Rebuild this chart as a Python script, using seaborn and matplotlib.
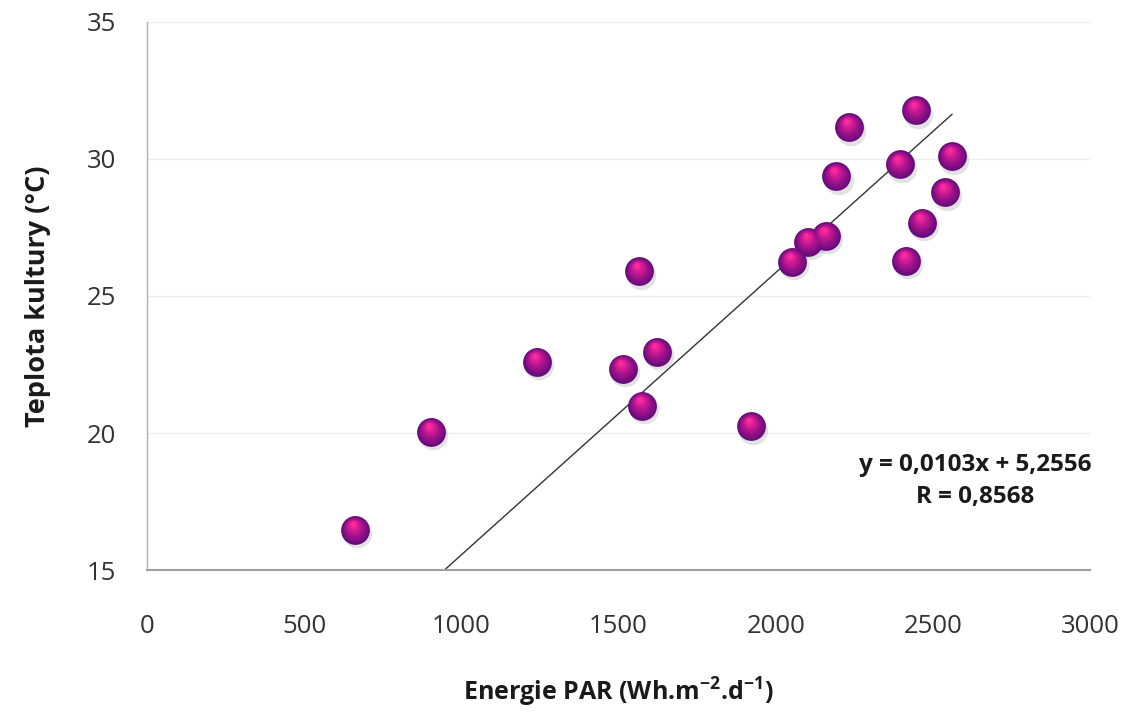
import numpy as np
import pandas as pd
import matplotlib
matplotlib.use("Agg")
import matplotlib.pyplot as plt
import matplotlib.transforms as mtransforms
import seaborn as sns
from matplotlib.colors import to_rgb

# Data
energie_par = [662, 904, 1241, 1514, 1566, 1575, 1622, 1922, 2052, 2104,
               2160, 2193, 2234, 2394, 2415, 2446, 2465, 2539, 2561]
teplota = [16.46, 20.04, 22.6, 22.34, 25.9, 21.0, 22.96, 20.24, 26.24, 26.98,
           27.19, 29.37, 31.16, 29.8, 26.28, 31.78, 27.68, 28.78, 30.1]
slope = 0.0103
intercept = 5.2556
x_ticks = [0, 500, 1000, 1500, 2000, 2500, 3000]
y_ticks = [15, 20, 25, 30, 35]
eq_text = "y = 0,0103x + 5,2556"
r_text = "R = 0,8568"
x_label = "Energie PAR (Wh.m$^{\\mathregular{-2}}$.d$^{\\mathregular{-1}}$)"
y_label = "Teplota kultury (°C)"

df = pd.DataFrame({"x": energie_par, "y": teplota})

sns.set_theme(style="white")
plt.rcParams['font.family'] = ['Open Sans', 'DejaVu Sans']
plt.rcParams['mathtext.fontset'] = 'custom'
plt.rcParams['mathtext.rm'] = 'Open Sans:bold'

fig = plt.figure(figsize=(11.32, 7.18), dpi=100)
ax = fig.add_axes([0.1299, 0.2061, 0.8331, 0.7633])

# grid
for yv in y_ticks[1:]:
    ax.axhline(yv, color="#ececec", lw=1.0, zorder=0)

# trendline
x0 = (y_ticks[0] - intercept) / slope
xl = np.array([x0, max(energie_par)])
sns.lineplot(x=xl, y=slope * xl + intercept, ax=ax, color="#333333", lw=1.0, zorder=2)

# sphere-like markers: shadow + layered radial gradient
base_s = 430
shadow = mtransforms.offset_copy(ax.transData, fig=fig, x=1.5, y=-2.5, units="points")
sns.scatterplot(data=df, x="x", y="y", ax=ax, s=base_s * 1.05, color="#a0a0a0",
                alpha=0.3, linewidth=0, transform=shadow, zorder=3, legend=False)

c_out = np.array(to_rgb("#650c7c"))
c_mid = np.array(to_rgb("#b0148e"))
c_in = np.array(to_rgb("#ff2a9c"))
n = 10
for i in range(n):
    t = i / (n - 1)
    frac = 1 - 0.85 * t
    if t < 0.5:
        col = c_out * (1 - 2 * t) + c_mid * (2 * t)
    else:
        col = c_mid * (2 - 2 * t) + c_in * (2 * t - 1)
    off = 4.5 * t
    tr = mtransforms.offset_copy(ax.transData, fig=fig, x=-off * 0.4, y=off, units="points")
    sns.scatterplot(data=df, x="x", y="y", ax=ax, s=base_s * frac ** 2, color=col,
                    linewidth=0, transform=tr, zorder=4 + i, legend=False)

ax.set_xlim(0, 3000)
ax.set_ylim(15, 35)
ax.set_xticks(x_ticks)
ax.set_yticks(y_ticks)
ax.tick_params(axis="x", length=0, pad=32, labelsize=18.5, labelcolor="#333333")
ax.tick_params(axis="y", length=0, pad=22, labelsize=18.5, labelcolor="#333333")

for s in ["top", "right"]:
    ax.spines[s].set_visible(False)
ax.spines["left"].set_color("#b0b0b0")
ax.spines["bottom"].set_color("#a0a0a0")
ax.spines["left"].set_linewidth(1.0)
ax.spines["bottom"].set_linewidth(1.5)

ax.set_xlabel(x_label, fontsize=18, fontweight="bold", color="#1a1a1a", labelpad=26)
ax.set_ylabel(y_label, fontsize=19.5, fontweight="bold", color="#1a1a1a", labelpad=26)

ax.text(0.878, 0.192, eq_text, transform=ax.transAxes, ha="center", va="center",
        fontsize=17.5, fontweight="bold", color="#1a1a1a")
ax.text(0.878, 0.133, r_text, transform=ax.transAxes, ha="center", va="center",
        fontsize=17.5, fontweight="bold", color="#1a1a1a")

fig.savefig("out.png", dpi=100, facecolor="white")
